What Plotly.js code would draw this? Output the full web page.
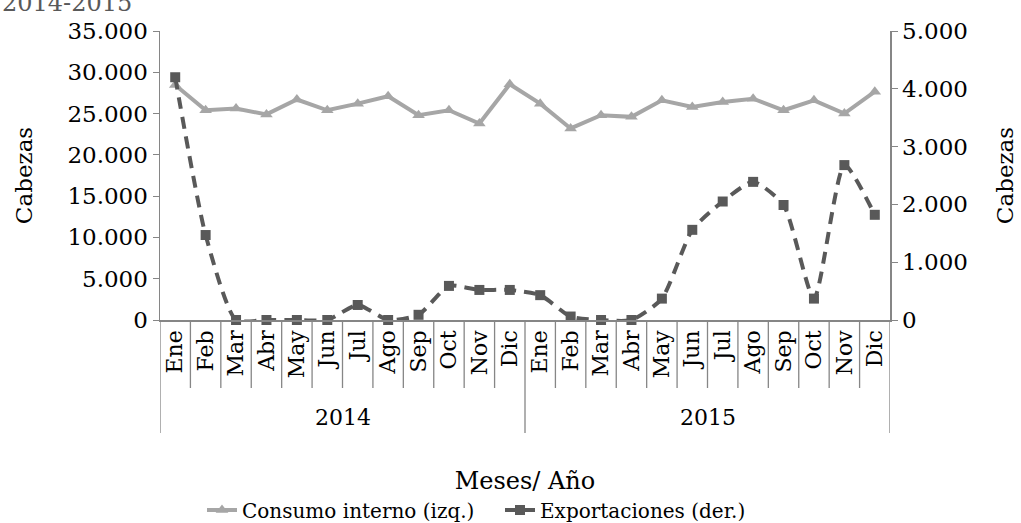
<!DOCTYPE html>
<html>
<head>
<meta charset="utf-8">
<script src="https://cdn.plot.ly/plotly-3.0.1.min.js"></script>
<style>html,body{margin:0;padding:0;background:#fff;}#chart{width:1021px;height:523px;}</style>
</head>
<body>
<div id="chart"></div>
<script>
const months = ['Ene','Feb','Mar','Abr','May','Jun','Jul','Ago','Sep','Oct','Nov','Dic'];
const years = ['2014','2015'];
const consumoInterno = [28450, 25400, 25600, 24900, 26700, 25400, 26200, 27100, 24800, 25400, 23800, 28550,
                        26200, 23200, 24800, 24600, 26600, 25800, 26400, 26800, 25400, 26600, 25000, 27650];
const exportaciones = [4200, 1470, 0, 0, 0, 0, 260, 0, 90, 590, 520, 520,
                       430, 60, 0, 0, 370, 1560, 2050, 2390, 1990, 370, 2680, 1820];
const seriesNames = ['Consumo interno (izq.)', 'Exportaciones (der.)'];
const titleText = '2014-2015';
const xTitle = 'Meses/ Año';
const yTitle = 'Cabezas';

const cats = [];
const tickText = [];
years.forEach(y => months.forEach(m => { cats.push(m + ' ' + y); tickText.push(m); }));

const FONT = 'DejaVu Serif';
const axisCol = '#868686';
const plotH = 523 - 31 - 203;

const shapes = [];
for (let i = 0; i <= cats.length; i++) {
  const isYear = (i % months.length) === 0;
  shapes.push({type: 'line', xref: 'x', yref: 'paper', x0: i - 0.5, x1: i - 0.5,
    y0: 0, y1: -(isYear ? 113 : 68) / plotH, line: {color: axisCol, width: 1.3}});
}
const annotations = years.map((y, k) => ({
  xref: 'x', yref: 'paper', x: k * months.length + (months.length - 1) / 2, y: -98 / plotH,
  text: y, showarrow: false, font: {family: FONT, size: 22, color: '#000'}, yanchor: 'middle'
}));
annotations.push({xref: 'paper', yref: 'paper', x: -160 / 730, xanchor: 'left', y: (320 - 19) / plotH, yanchor: 'bottom',
  text: titleText, showarrow: false, font: {family: FONT, size: 24, color: '#595959'}});

const traces = [
  {x: cats, y: consumoInterno, name: seriesNames[0], type: 'scatter', mode: 'lines+markers', yaxis: 'y',
   line: {color: '#a6a6a6', width: 4}, marker: {symbol: 'triangle-up', size: 11, color: '#a6a6a6'}, cliponaxis: false},
  {x: cats, y: exportaciones, name: seriesNames[1], type: 'scatter', mode: 'lines+markers', yaxis: 'y2',
   line: {color: '#595959', width: 4, dash: '12px,8px', shape: 'spline', smoothing: 0.6},
   marker: {symbol: 'square', size: 10, color: '#595959'}, cliponaxis: false}
];

const layout = {
  width: 1021, height: 523,
  margin: {l: 160, r: 131, t: 31, b: 203, autoexpand: false},
  paper_bgcolor: '#fff', plot_bgcolor: '#fff',
  separators: ',.',
  font: {family: FONT, color: '#000', size: 18},
  showlegend: true,
  legend: {orientation: 'h', x: 42 / 730, xanchor: 'left', y: -190 / plotH, yanchor: 'middle',
    font: {family: FONT, size: 20, color: '#000'}, entrywidth: 253, entrywidthmode: 'pixels', traceorder: 'normal'},
  xaxis: {type: 'category', categoryorder: 'array', categoryarray: cats, tickvals: cats, ticktext: tickText,
    tickangle: -90, ticks: '', showline: true, linecolor: axisCol, linewidth: 1.5, showgrid: false, zeroline: false,
    automargin: false,
    tickfont: {family: FONT, size: 22, color: '#000'}, range: [-0.5, cats.length - 0.5],
    title: {text: xTitle, font: {family: FONT, size: 24, color: '#000'}, standoff: 95}},
  yaxis: {range: [0, 35000], dtick: 5000, tickformat: ',.0f', ticks: 'outside', ticklen: 6, tickcolor: axisCol,
    showline: true, linecolor: axisCol, linewidth: 1.5, showgrid: false, zeroline: false, automargin: false,
    tickfont: {family: FONT, size: 23, color: '#000'},
    title: {text: yTitle, font: {family: FONT, size: 23, color: '#000'}, standoff: 28}},
  yaxis2: {range: [0, 5000], dtick: 1000, tickformat: ',.0f', overlaying: 'y', side: 'right', ticks: 'outside', ticklen: 6,
    tickcolor: axisCol, showline: true, linecolor: axisCol, linewidth: 1.5, showgrid: false, zeroline: false,
    automargin: false,
    tickfont: {family: FONT, size: 23, color: '#000'},
    title: {text: yTitle, font: {family: FONT, size: 23, color: '#000'}, standoff: 30}},
  shapes: shapes,
  annotations: annotations
};

Plotly.newPlot('chart', traces, layout, {displayModeBar: false, staticPlot: true});
</script>
</body>
</html>
